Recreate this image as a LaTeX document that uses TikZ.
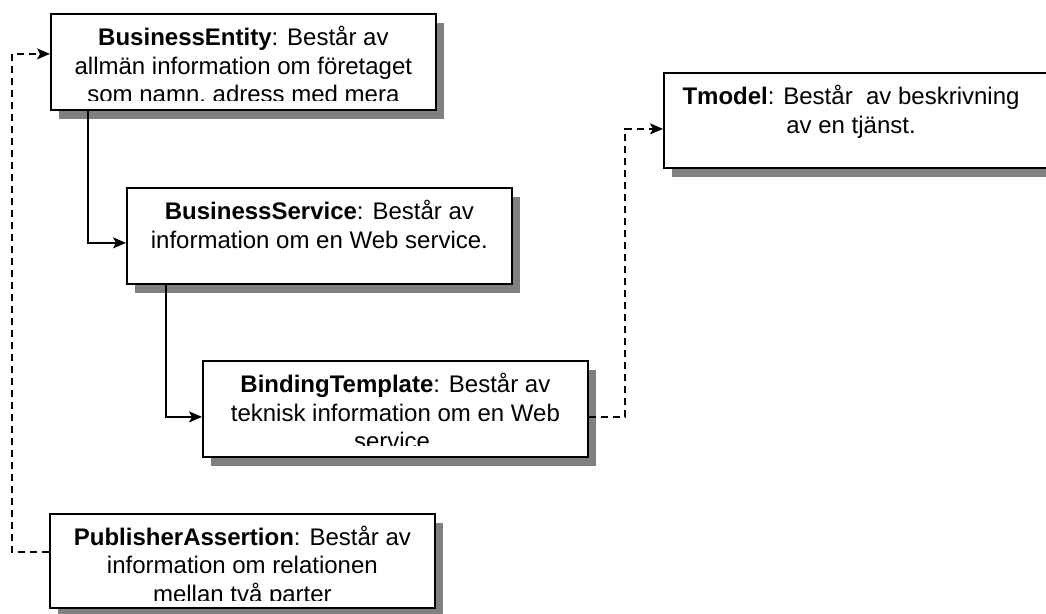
\documentclass[tikz,border=0pt]{standalone}
\usepackage{fontspec}
\setmainfont{Liberation Sans}
\usetikzlibrary{calc,arrows.meta,shadows}

\definecolor{shadowgray}{HTML}{808080}

\tikzset{
  entitybox/.style={
    rectangle, draw=black, line width=1.8pt, fill=white, inner sep=0pt,
    anchor=north west, minimum width=385pt, minimum height=96pt,
    general shadow={fill=shadowgray, shadow xshift=8pt, shadow yshift=-9pt}
  },
  boxtext/.style={
    anchor=north, inner sep=0pt, align=center, text=black,
    font=\fontsize{24pt}{28.5pt}\selectfont
  },
  solidlink/.style={line width=1.3pt, -{Stealth[length=13pt,width=11pt,inset=3pt]}},
  dashlink/.style={solidlink, dash pattern=on 7pt off 5pt}
}

% fixes the first baseline 23pt below the top of a caption
\newcommand{\firstline}{\rule{0pt}{23pt}}

\begin{document}
\begin{tikzpicture}[x=1pt,y=-1pt]
  \useasboundingbox (0,0) rectangle (1046,613);
  \clip (0,0) rectangle (1046,613);

  % the five UDDI data structures
  \node[entitybox] (be) at (50,13) {};
  \node[entitybox, minimum width=392pt, minimum height=95pt] (tm) at (663,72) {};
  \node[entitybox] (bs) at (126,187) {};
  \node[entitybox] (bt) at (202,360) {};
  \node[entitybox, minimum height=94pt] (pa) at (49,513) {};

  % box captions, cut off at the inner bottom edge of each box
  \begin{scope}
    \clip (be.north west) rectangle ($(be.south east)+(0,-10)$);
    \node[boxtext] (be-t) at ($(be.north)+(0,9.5)$)
      {\firstline\textbf{BusinessEntity}: Består av\\
       allmän information om företaget\\
       som namn, adress med mera};
  \end{scope}
  \begin{scope}
    \clip (tm.north west) rectangle ($(tm.south east)+(0,-9)$);
    \node[boxtext] (tm-t) at ($(tm.north west)+(188,9.5)$)
      {\firstline\textbf{Tmodel}: Består\ \ av beskrivning\\
       av en tjänst.};
  \end{scope}
  \begin{scope}
    \clip (bs.north west) rectangle ($(bs.south east)+(0,-9)$);
    \node[boxtext] (bs-t) at ($(bs.north)+(0,9.5)$)
      {\firstline\textbf{BusinessService}: Består av\\
       information om en Web service.};
  \end{scope}
  \begin{scope}
    \clip (bt.north west) rectangle ($(bt.south east)+(0,-12)$);
    \node[boxtext] (bt-t) at ($(bt.north)+(0,9.5)$)
      {\firstline\textbf{BindingTemplate}: Består av\\
       teknisk information om en Web\\
       service.};
  \end{scope}
  \begin{scope}
    \clip (pa.north west) rectangle ($(pa.south east)+(0,-8)$);
    \node[boxtext] (pa-t) at ($(pa.north)+(0,9)$)
      {\firstline\textbf{PublisherAssertion}: Består av\\
       information om relationen\\
       mellan två parter};
  \end{scope}

  % containment links
  \draw[solidlink] ($(be.south west)+(38,0)$) |- ($(bs.west)+(0,7)$);
  \draw[solidlink] ($(bs.south west)+(40,0)$) |- ($(bt.west)+(0,8)$);

  % references
  \draw[dashlink] ($(bt.east)+(0,8)$) -| ($(tm.west)+(-38,8.5)$) -- ($(tm.west)+(0,8.5)$);
  \draw[dashlink] ($(pa.west)+(0,-9)$) -| ($(be.west)+(-38,-8)$) -- ($(be.west)+(0,-8)$);
\end{tikzpicture}
\end{document}
